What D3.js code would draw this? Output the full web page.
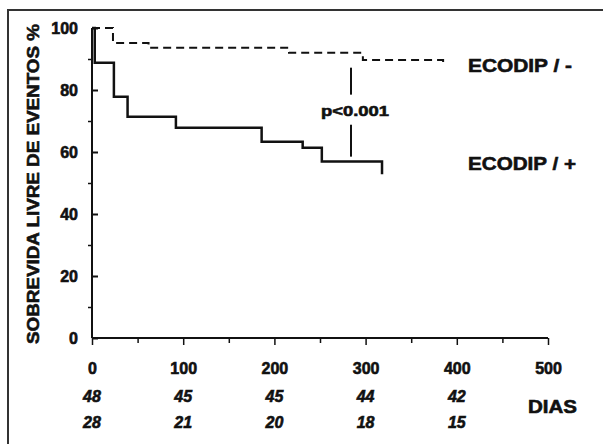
<!DOCTYPE html>
<html>
  <head>
    <meta charset="utf-8">
    <title>Sobrevida livre de eventos</title>
    <script src="https://cdn.jsdelivr.net/npm/d3@7"></script>
    <style type="text/css">
    body { margin: 0; background: #fff; }
    /* scanned type is very heavy, a thin stroke thickens it */
    text { font-family: "Liberation Sans", Arial, sans-serif; font-weight: bold; fill: #111;
           stroke: #111; stroke-width: 0.6px; }
    </style>
  </head>
  <body>
  <script type="text/javascript">

    // curve data (days, % event-free survival)
    var daysPos = [0, 3, 24, 39, 92, 186, 231, 252, 318];
    var survPos = [100, 88.8, 77.8, 71.4, 67.8, 63.3, 61.4, 56.9, 52.8];

    var daysNeg = [0, 23, 62, 216, 297, 385];
    var survNeg = [100, 95.2, 93.6, 92, 89.7, 88.7];

    var xTicks = [0, 100, 200, 300, 400, 500];
    var xMinor = [50, 150, 250, 350, 450];
    var yTicks = [0, 20, 40, 60, 80, 100];
    var yMinor = [10, 30, 50, 70, 90];

    // patients at risk under each x tick
    var riskNeg = [48, 45, 45, 44, 42];
    var riskPos = [28, 21, 20, 18, 15];

    var pDay = 284;
    var pSegs = [[87.2, 78.5], [68.8, 58.5]];

    var W = 603, H = 444;

    var svg = d3.select("body").append("svg")
      .attr("width", W)
      .attr("height", H);

    // frame (only top & left visible in the scan)
    svg.append("rect")
      .attr("x", 8).attr("y", 10)
      .attr("width", W + 20).attr("height", H + 20)
      .attr("fill", "none")
      .attr("stroke", "#333")
      .attr("stroke-width", 2);

    var x = d3.scaleLinear().domain([0, 500]).range([92, 548]);
    var y = d3.scaleLinear().domain([0, 100]).range([338, 28]);

    // y axis
    var yAx = svg.append("g")
      .attr("transform", "translate(" + x(0) + ",0)")
      .call(d3.axisLeft(y).tickValues(yTicks).tickSizeInner(5).tickSizeOuter(0).tickPadding(9));
    yAx.select(".domain").remove();
    yAx.selectAll(".tick line").attr("x2", 6).attr("stroke", "#111").attr("stroke-width", 2);
    yAx.selectAll(".tick text").style("font-size", "16px").attr("fill", "#111");

    svg.append("g")
      .attr("transform", "translate(" + x(0) + ",0)")
      .call(d3.axisLeft(y).tickValues(yMinor).tickSize(4).tickFormat(""))
      .call(function(g) {
        g.select(".domain").remove();
        g.selectAll("line").attr("stroke", "#111").attr("stroke-width", 1.5);
      });

    svg.append("line")
      .attr("x1", x(0)).attr("x2", x(0))
      .attr("y1", y(0)).attr("y2", y(100))
      .attr("stroke", "#111").attr("stroke-width", 2);

    // x axis
    var xAx = svg.append("g")
      .attr("transform", "translate(0," + y(0) + ")")
      .call(d3.axisBottom(x).tickValues(xTicks).tickSize(7).tickSizeOuter(0));
    xAx.select(".domain").remove();
    xAx.selectAll(".tick line").attr("stroke", "#111").attr("stroke-width", 1.5);
    xAx.selectAll(".tick text")
      .attr("y", 36).attr("dy", 0)
      .style("font-size", "16px").attr("fill", "#111");

    svg.append("g")
      .attr("transform", "translate(0," + y(0) + ")")
      .call(d3.axisBottom(x).tickValues(xMinor).tickSize(5).tickFormat(""))
      .call(function(g) {
        g.select(".domain").remove();
        g.selectAll("line").attr("stroke", "#111").attr("stroke-width", 1.5);
      });

    svg.append("line")
      .attr("x1", x(0)).attr("x2", x(500))
      .attr("y1", y(0)).attr("y2", y(0))
      .attr("stroke", "#111").attr("stroke-width", 2);

    // y title
    svg.append("text")
      .attr("transform", "translate(39,184) rotate(-90)")
      .attr("text-anchor", "middle")
      .attr("textLength", 320)
      .attr("lengthAdjust", "spacingAndGlyphs")
      .style("font-size", "16px")
      .text("SOBREVIDA LIVRE DE EVENTOS %");

    // curves
    var line = d3.line()
      .x(function(d) { return x(d[0]); })
      .y(function(d) { return y(d[1]); })
      .curve(d3.curveStepAfter);

    svg.append("path")
      .datum(d3.zip(daysNeg, survNeg))
      .attr("d", line)
      .attr("fill", "none")
      .attr("stroke", "#111")
      .attr("stroke-width", 2)
      .attr("stroke-dasharray", "8,5");

    svg.append("path")
      .datum(d3.zip(daysPos, survPos))
      .attr("d", line)
      .attr("fill", "none")
      .attr("stroke", "#111")
      .attr("stroke-width", 2.5);

    // p value marker
    pSegs.forEach(function(s) {
      svg.append("line")
        .attr("x1", x(pDay)).attr("x2", x(pDay))
        .attr("y1", y(s[0])).attr("y2", y(s[1]))
        .attr("stroke", "#111").attr("stroke-width", 2);
    });
    svg.append("text")
      .attr("x", x(pDay) - 30).attr("y", y(73.4))
      .attr("dy", "0.35em")
      .attr("textLength", 68).attr("lengthAdjust", "spacingAndGlyphs")
      .style("font-size", "15px")
      .text("p<0.001");

    // legend labels
    svg.append("text")
      .attr("x", 468).attr("y", 72)
      .attr("textLength", 104).attr("lengthAdjust", "spacingAndGlyphs")
      .style("font-size", "19px")
      .text("ECODIP / -");
    svg.append("text")
      .attr("x", 468).attr("y", 170)
      .attr("textLength", 108).attr("lengthAdjust", "spacingAndGlyphs")
      .style("font-size", "19px")
      .text("ECODIP / +");

    // numbers at risk
    svg.selectAll(".riskNeg")
      .data(riskNeg)
      .enter().append("text")
      .attr("class", "riskNeg")
      .attr("x", function(d, i) { return x(xTicks[i]); })
      .attr("y", 402)
      .attr("text-anchor", "middle")
      .style("font-size", "16px")
      .style("font-style", "italic")
      .text(function(d) { return d; });

    svg.selectAll(".riskPos")
      .data(riskPos)
      .enter().append("text")
      .attr("class", "riskPos")
      .attr("x", function(d, i) { return x(xTicks[i]); })
      .attr("y", 428)
      .attr("text-anchor", "middle")
      .style("font-size", "16px")
      .style("font-style", "italic")
      .text(function(d) { return d; });

    svg.append("text")
      .attr("x", 528).attr("y", 413)
      .attr("textLength", 49).attr("lengthAdjust", "spacingAndGlyphs")
      .style("font-size", "18px")
      .text("DIAS");

  </script>
  </body>
</html>
